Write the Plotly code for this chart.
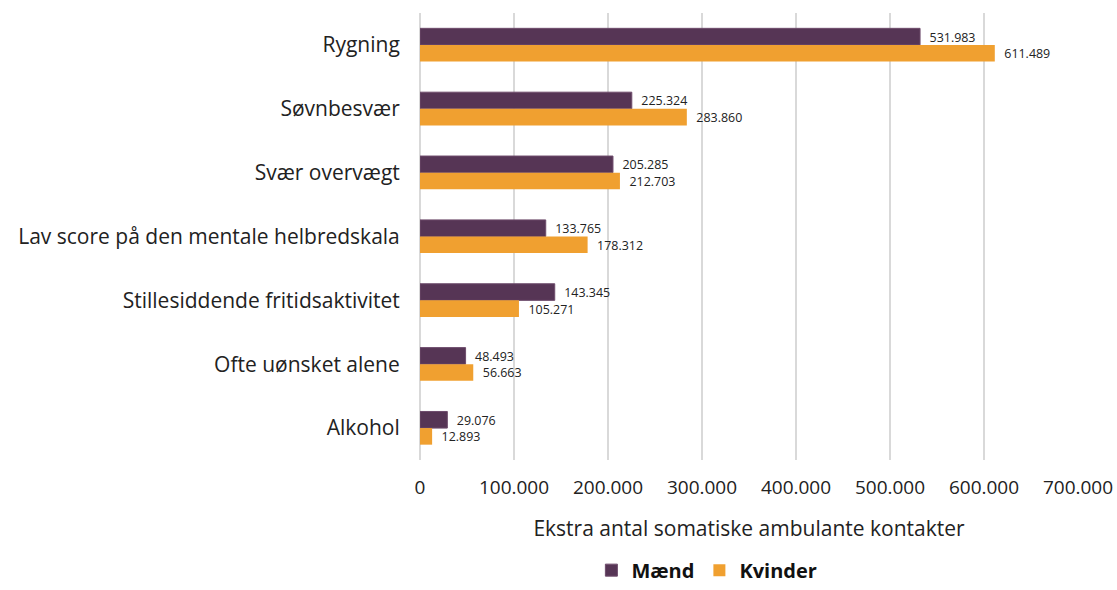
import plotly.graph_objects as go

categories = ["Rygning", "Søvnbesvær", "Svær overvægt", "Lav score på den mentale helbredskala",
              "Stillesiddende fritidsaktivitet", "Ofte uønsket alene", "Alkohol"]
maend = [531983, 225324, 205285, 133765, 143345, 48493, 29076]
kvinder = [611489, 283860, 212703, 178312, 105271, 56663, 12893]
tick_vals = [0, 100000, 200000, 300000, 400000, 500000, 600000, 700000]

FONT = "Open Sans"
fig = go.Figure()
fig.add_trace(go.Bar(y=categories, x=maend, orientation="h", name="Mænd",
                     marker=dict(color="#563555", line=dict(color="#6e4c6c", width=1)),
                     texttemplate="  %{x:,d}", textposition="outside",
                     textfont=dict(size=15, color="#222", family=FONT), cliponaxis=False))
fig.add_trace(go.Bar(y=categories, x=kvinder, orientation="h", name="Kvinder",
                     marker=dict(color="#F0A030", line=dict(width=0)),
                     texttemplate="  %{x:,d}", textposition="outside",
                     textfont=dict(size=15, color="#222", family=FONT), cliponaxis=False))

fig.update_layout(
    width=1117, height=590,
    barmode="group", bargap=0.48, bargroupgap=0,
    separators=",.",
    paper_bgcolor="white", plot_bgcolor="white",
    margin=dict(l=420, r=39, t=13, b=130, autoexpand=False),
    font=dict(family=FONT, color="#222"),
    xaxis=dict(range=[0, 700000], tickvals=tick_vals, tickformat=",d",
               showgrid=True, gridcolor="#d9d9d9", gridwidth=2,
               zeroline=True, zerolinecolor="#d9d9d9", zerolinewidth=2,
               tickfont=dict(size=19, family=FONT, color="#222"), ticklen=10, ticks="outside",
               tickcolor="rgba(0,0,0,0)",
               title=dict(text="Ekstra antal somatiske ambulante kontakter",
                          font=dict(size=21, family=FONT, color="#222"), standoff=22)),
    yaxis=dict(autorange="reversed", tickfont=dict(size=21, family=FONT, color="#222"),
               ticks="outside", ticklen=15, tickcolor="rgba(0,0,0,0)", showgrid=False),
    legend=dict(orientation="h", x=0.436, xanchor="center", y=-0.29, yanchor="bottom",
                font=dict(size=20, family=FONT, color="#111", weight="bold"),
                itemwidth=30),
    showlegend=True,
)
fig.write_html("out.html", post_script="document.body.style.margin='0';",
               config={"displayModeBar": False})
